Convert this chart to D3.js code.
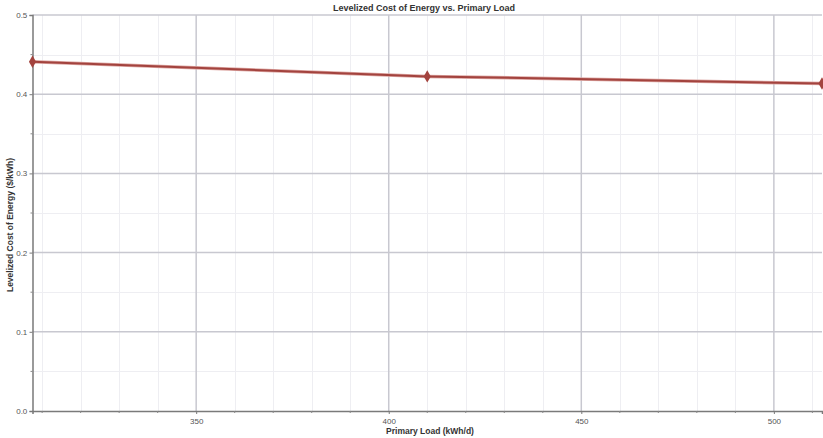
<!DOCTYPE html>
<html>
<head>
<meta charset="utf-8">
<script src="https://cdn.jsdelivr.net/npm/d3@7"></script>
<style>
  html, body { margin: 0; padding: 0; background: #fff; }
  svg { display: block; font-family: "Liberation Sans", Arial, sans-serif; }
</style>
</head>
<body>
<svg id="chart" width="823" height="438"></svg>
<script>
// Levelized cost of energy at three primary-load levels
const primaryLoad = [307.5, 410, 512.5];      // kWh/d
const coe = [0.441, 0.4225, 0.4135];           // $/kWh
const xTicks = [350, 400, 450, 500];
const yTicks = [0.0, 0.1, 0.2, 0.3, 0.4, 0.5];

const W = 823, H = 438;
const m = { left: 32.5, right: 1, top: 15, bottom: 27 };
const svg = d3.select("#chart");

const x = d3.scaleLinear().domain([307.5, 512.5]).range([m.left, W - m.right]);
const y = d3.scaleLinear().domain([0, 0.5]).range([H - m.bottom, m.top]);

const xMinor = d3.range(310, 513, 10).filter(v => !xTicks.includes(v));
const yMinor = d3.range(0.05, 0.5, 0.1).map(v => +v.toFixed(2));

// minor grid
const g = svg.append("g");
g.selectAll(".xm").data(xMinor).join("line")
  .attr("x1", d => Math.round(x(d)) + 0.5).attr("x2", d => Math.round(x(d)) + 0.5)
  .attr("y1", y(0.5)).attr("y2", y(0))
  .attr("stroke", "#eeeef2").attr("stroke-width", 1);
g.selectAll(".ym").data(yMinor).join("line")
  .attr("x1", x.range()[0]).attr("x2", x.range()[1])
  .attr("y1", d => Math.round(y(d)) + 0.5).attr("y2", d => Math.round(y(d)) + 0.5)
  .attr("stroke", "#eeeef2").attr("stroke-width", 1);

// major grid
g.selectAll(".xg").data(xTicks).join("line")
  .attr("x1", d => x(d)).attr("x2", d => x(d))
  .attr("y1", y(0.5)).attr("y2", y(0))
  .attr("stroke", "#c8c8d0").attr("stroke-width", 1.5);
g.selectAll(".yg").data(yTicks.slice(1)).join("line")
  .attr("x1", x.range()[0]).attr("x2", x.range()[1])
  .attr("y1", d => y(d)).attr("y2", d => y(d))
  .attr("stroke", "#c8c8d0").attr("stroke-width", 1.5);

// axes
const xAxis = svg.append("g").attr("transform", `translate(0,${y(0)})`)
  .call(d3.axisBottom(x).tickValues(xTicks).tickSize(3).tickFormat(d3.format("d")));
const yAxis = svg.append("g").attr("transform", `translate(${m.left},0)`)
  .call(d3.axisLeft(y).tickValues(yTicks).tickSize(3).tickFormat(d3.format(".1f")));
[xAxis, yAxis].forEach(a => {
  a.select(".domain").attr("stroke", "#7a7a7a").attr("stroke-width", 1.5);
  a.selectAll(".tick line").attr("stroke", "#7a7a7a");
  a.selectAll("text").attr("fill", "#555").style("font-size", "8px");
});
xAxis.selectAll("text").attr("dy", "0.9em");
yAxis.selectAll("text").attr("dx", "0.1em");

// minor ticks
svg.append("g").selectAll("line").data(xMinor).join("line")
  .attr("x1", d => x(d)).attr("x2", d => x(d))
  .attr("y1", y(0)).attr("y2", y(0) + 2).attr("stroke", "#888");
svg.append("g").selectAll("line").data(yMinor).join("line")
  .attr("x1", m.left - 2).attr("x2", m.left)
  .attr("y1", d => y(d)).attr("y2", d => y(d)).attr("stroke", "#888");

// series
const pts = primaryLoad.map((v, i) => [v, coe[i]]);
const line = d3.line().x(d => x(d[0])).y(d => y(d[1]));
svg.append("path").datum(pts).attr("d", line)
  .attr("fill", "none").attr("stroke", "#dca6a2").attr("stroke-width", 3.5);
svg.append("path").datum(pts).attr("d", line)
  .attr("fill", "none").attr("stroke", "#a3433e").attr("stroke-width", 2);
svg.append("g").selectAll("path").data(pts).join("path")
  .attr("transform", d => `translate(${x(d[0])},${y(d[1])})`)
  .attr("d", d3.symbol(d3.symbolDiamond, 44))
  .attr("fill", "#a3433e");

// titles
svg.append("text").attr("x", 424).attr("y", 11).attr("text-anchor", "middle")
  .attr("fill", "#333").style("font-size", "9px").style("font-weight", "bold")
  .text("Levelized Cost of Energy vs. Primary Load");
svg.append("text").attr("x", 430).attr("y", 434).attr("text-anchor", "middle")
  .attr("fill", "#333").style("font-size", "8.5px").style("font-weight", "bold")
  .text("Primary Load (kWh/d)");
svg.append("text").attr("transform", "translate(13,225) rotate(-90)")
  .attr("text-anchor", "middle")
  .attr("fill", "#333").style("font-size", "8.5px").style("font-weight", "bold")
  .text("Levelized Cost of Energy ($/kWh)");
</script>
</body>
</html>
